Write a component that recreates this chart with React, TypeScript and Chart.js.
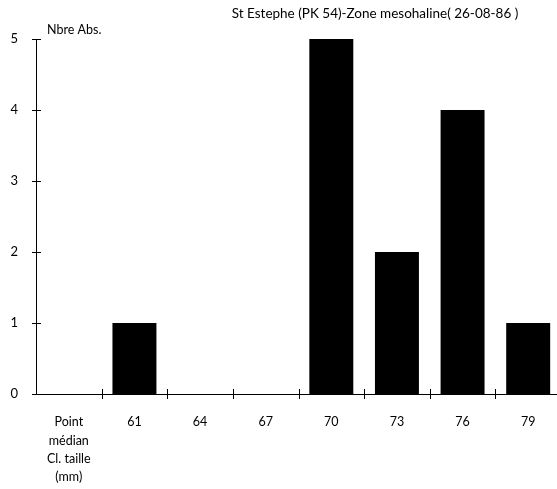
import React, { useEffect, useRef } from 'react';
import { Chart, registerables } from 'chart.js';

Chart.register(...registerables);

const categories: (string | string[])[] = [
  ['Point', 'médian', 'Cl. taille', '(mm)'],
  '61', '64', '67', '70', '73', '76', '79',
];
const counts: (number | null)[] = [null, 1, 0, 0, 5, 2, 4, 1];
const yMin = 0;
const yMax = 5;
const titleText = 'St Estephe (PK 54)-Zone mesohaline( 26-08-86 )';
const yAxisLabel = 'Nbre Abs.';

const FONT = 'Lato';

const decorPlugin = {
  id: 'decor',
  afterDraw(chart: any) {
    const { ctx, scales } = chart;
    const xs = scales.x;
    const ys = scales.y;
    const axisX = ys.right;
    const axisY = xs.top;
    ctx.save();
    ctx.strokeStyle = '#000';
    ctx.lineWidth = 1;
    // y tick crosses
    ys.ticks.forEach((t: any) => {
      const py = Math.round(ys.getPixelForValue(t.value)) + 0.5;
      ctx.beginPath();
      ctx.moveTo(axisX - 4, py);
      ctx.lineTo(axisX + 5, py);
      ctx.stroke();
    });
    // x boundary crosses
    for (let i = 1; i < categories.length; i++) {
      const px = Math.round(xs.getPixelForValue(i - 0.5)) + 0.5;
      ctx.beginPath();
      ctx.moveTo(px, axisY - 5);
      ctx.lineTo(px, axisY + 5);
      ctx.stroke();
    }
    // texts
    ctx.fillStyle = '#000';
    ctx.font = `13.5px ${FONT}`;
    ctx.textAlign = 'center';
    ctx.textBaseline = 'middle';
    ctx.fillText(titleText, 375, 14);
    ctx.textAlign = 'left';
    ctx.font = `12.5px ${FONT}`;
    ctx.fillText(yAxisLabel, 47, 30);
    ctx.restore();
  },
};

export default function App() {
  const ref = useRef<HTMLCanvasElement | null>(null);
  useEffect(() => {
    if (!ref.current) return;
    const chart = new Chart(ref.current, {
      type: 'bar',
      data: {
        labels: categories,
        datasets: [
          {
            data: counts,
            backgroundColor: '#000',
            borderWidth: 0,
            barPercentage: 0.67,
            categoryPercentage: 1,
          },
        ],
      },
      options: {
        animation: false,
        responsive: false,
        maintainAspectRatio: false,
        layout: { padding: { top: 39, right: 4, bottom: 0, left: 0 } },
        plugins: {
          legend: { display: false },
          title: { display: false },
          tooltip: { enabled: false },
        },
        scales: {
          x: {
            offset: true,
            grid: { display: false, offset: true },
            border: { display: true, color: '#000', width: 1 },
            ticks: {
              color: '#000',
              font: { family: FONT, size: 12.5, lineHeight: 1.47 },
              padding: 11,
              maxRotation: 0,
              autoSkip: false,
            },
            afterFit(scale: any) {
              scale.height = 95;
            },
          },
          y: {
            min: yMin,
            max: yMax,
            grid: { display: false },
            border: { display: true, color: '#000', width: 1 },
            ticks: {
              stepSize: 1,
              color: '#000',
              font: { family: FONT, size: 13 },
              padding: 10,
            },
            afterFit(scale: any) {
              scale.width = 36;
            },
          },
        },
      },
      plugins: [decorPlugin],
    });
    return () => chart.destroy();
  }, []);
  return (
    <div
      style={{
        position: 'absolute',
        left: 0,
        top: 0,
        width: 557,
        height: 489,
        overflow: 'hidden',
        background: '#fff',
      }}
    >
      <canvas ref={ref} width={565} height={489} style={{ display: 'block' }} />
    </div>
  );
}
